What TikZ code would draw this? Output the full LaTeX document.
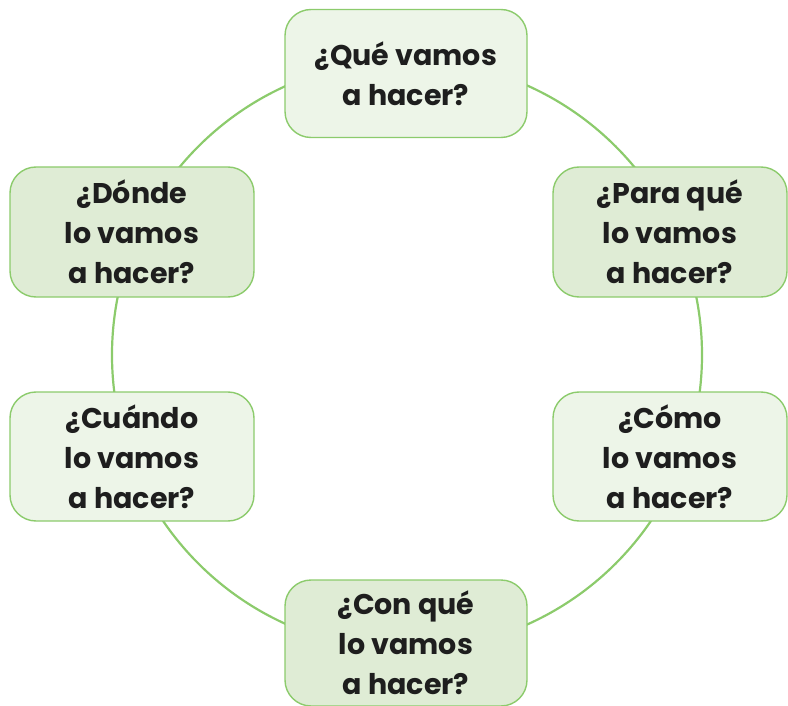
\documentclass[tikz,border=0pt]{standalone}
\usepackage{fontspec}
\setmainfont{Poppins}
\usetikzlibrary{positioning}
\definecolor{ringgreen}{RGB}{140,203,108}
\definecolor{lightfill}{RGB}{237,245,232}
\definecolor{darkfill}{RGB}{223,236,213}
\definecolor{textblack}{RGB}{30,30,30}

\begin{document}
\begin{tikzpicture}[
    x=1pt, y=-1pt,
    % Block styles
    question/.style={
        rectangle, draw=ringgreen, fill=lightfill,
        text=textblack, font=\fontsize{28.5}{40}\selectfont\bfseries,
        minimum width=242pt, minimum height=128pt,
        align=center, rounded corners=26pt,
        line width=1.4pt, inner sep=0pt
    },
    questiondark/.style={
        question, fill=darkfill
    },
    ring/.style={
        draw=ringgreen, line width=2.2pt
    },
]
\useasboundingbox (0,0) rectangle (788,706);

% ===== RING =====
\coordinate (centre) at (407,355);
\draw[ring] (centre) circle[radius=295pt];

% ===== TOP / BOTTOM =====
\node[question] (que) at (406,73.5) {¿Qué vamos\\a hacer?};
\node[questiondark, minimum height=126pt] (conque) at (406,643) {¿Con qué\\lo vamos\\a hacer?};

% ===== LEFT SIDE =====
\node[questiondark, minimum width=244pt, minimum height=130pt] (donde) at (132,232) {¿Dónde\\lo vamos\\a hacer?};
\node[question, minimum width=244pt, minimum height=129pt] (cuando) at (132,456.5) {¿Cuándo\\lo vamos\\a hacer?};

% ===== RIGHT SIDE =====
\node[questiondark, minimum width=234pt, minimum height=130pt] (paraque) at (670,232) {¿Para qué\\lo vamos\\a hacer?};
\node[question, minimum width=234pt, minimum height=129pt] (como) at (670,456.5) {¿Cómo\\lo vamos\\a hacer?};

\end{tikzpicture}
\end{document}
